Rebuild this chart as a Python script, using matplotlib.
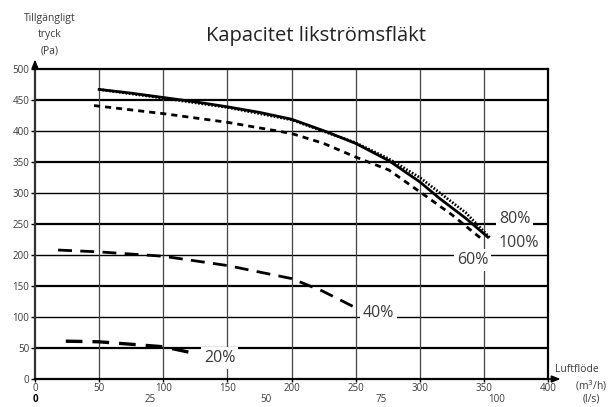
import matplotlib
matplotlib.use("Agg")
import matplotlib.pyplot as plt

plt.rcParams['font.family'] = ['Open Sans', 'DejaVu Sans']

# flow in m3/h, available pressure in Pa
flow_100 = [50, 75, 100, 125, 150, 175, 200, 227, 250, 276, 300, 315, 336, 353]
pres_100 = [467, 461, 454, 447, 439, 430, 419, 399, 380, 352, 318, 292, 259, 229]

flow_80 = [50, 100, 150, 200, 250, 276, 300, 336, 355]
pres_80 = [467, 453, 438, 418, 381, 355, 325, 268, 227]

flow_60 = [46, 100, 150, 200, 225, 250, 276, 300, 325, 341, 350]
pres_60 = [441, 428, 414, 396, 380, 358, 337, 302, 265, 238, 223]

flow_40 = [18, 50, 100, 150, 200, 224, 248]
pres_40 = [208, 205, 198, 183, 162, 142, 117]

flow_20 = [24, 50, 100, 123]
pres_20 = [61, 60, 52, 42]

x_ticks = [0, 50, 100, 150, 200, 250, 300, 350, 400]
y_ticks = [0, 50, 100, 150, 200, 250, 300, 350, 400, 450, 500]
ls_ticks = [0, 25, 50, 75, 100]   # l/s

labels = ['100%', '80%', '60%', '40%', '20%']
label_pos = [(377, 220), (374, 258), (341, 192), (268, 106), (144, 34)]

txt = '#3a3a3a'

fig = plt.figure(figsize=(6.11, 4.07), dpi=100)
ax = fig.add_axes([0.0573, 0.0688, 0.8396, 0.7617])
ax.set_xlim(0, 400)
ax.set_ylim(0, 500)

# grid: every other horizontal line heavier
for y in y_ticks[1:-1]:
    lw = 1.6 if y % 100 == 50 else 1.0
    ax.axhline(y, color='black', lw=lw, zorder=1)
for x in x_ticks[1:-1]:
    ax.axvline(x, color='#444444', lw=0.9, zorder=1)

ax.plot(flow_100, pres_100, color='black', lw=2.0, zorder=3)
ax.plot(flow_80, pres_80, color='black', lw=2.0, ls=(0, (0.6, 0.6)), zorder=3)
ax.plot(flow_60, pres_60, color='black', lw=2.0, ls=(0, (2.2, 1.8)), zorder=3)
ax.plot(flow_40, pres_40, color='black', lw=2.0, ls=(0, (5, 3)), zorder=3)
ax.plot(flow_20, pres_20, color='black', lw=2.4, ls=(0, (5, 3)), zorder=3)

for lab, (lx, ly) in zip(labels, label_pos):
    ax.text(lx, ly, lab, fontsize=11.5, color=txt, ha='center', va='center', zorder=4,
            bbox=dict(fc='white', ec='none', pad=2.0))

for s in ax.spines.values():
    s.set_color('black')
    s.set_linewidth(1.6)
ax.spines['left'].set_color('#333333')

ax.set_xticks(x_ticks)
ax.set_yticks(y_ticks)
ax.tick_params(axis='x', length=2, width=1, labelsize=7, labelcolor=txt, pad=1)
ax.tick_params(axis='y', length=3, width=1, labelsize=7, labelcolor=txt, pad=1)

# secondary l/s labels below the m3/h scale
for i, v in enumerate(ls_ticks):
    ax.text(v * 3.6, -0.05, str(v), transform=ax.get_xaxis_transform(),
            fontsize=7, color='black' if i == 0 else txt,
            fontweight='bold' if i == 0 else 'normal', ha='center', va='top')

# axis arrows
ax.annotate('', xy=(0, 1.04), xycoords='axes fraction', xytext=(0, 0.99),
            arrowprops=dict(arrowstyle='-|>,head_length=0.5,head_width=0.2', color='black', lw=1.2))
ax.annotate('', xy=(1.03, 0), xycoords='axes fraction', xytext=(0.99, 0),
            arrowprops=dict(arrowstyle='-|>,head_length=0.5,head_width=0.2', color='black', lw=1.2))

fig.text(50 / 611, 1 - 18 / 407, 'Tillgängligt', fontsize=7.5, color=txt, ha='center', va='center')
fig.text(50 / 611, 1 - 34 / 407, 'tryck', fontsize=7.5, color=txt, ha='center', va='center')
fig.text(50 / 611, 1 - 51 / 407, '(Pa)', fontsize=7.5, color=txt, ha='center', va='center')

fig.text(555 / 611, 1 - 369 / 407, 'Luftflöde', fontsize=7.5, color=txt, ha='left', va='center')
fig.text(591 / 611, 1 - 386 / 407, '(m$^3$/h)', fontsize=7.5, color=txt, ha='center', va='center')
fig.text(591 / 611, 1 - 399 / 407, '(l/s)', fontsize=7.5, color=txt, ha='center', va='center')

fig.text(316 / 611, 1 - 36 / 407, 'Kapacitet likströmsfläkt', fontsize=14.5, color='#222222',
         ha='center', va='center')

fig.savefig('out.png', dpi=100)
